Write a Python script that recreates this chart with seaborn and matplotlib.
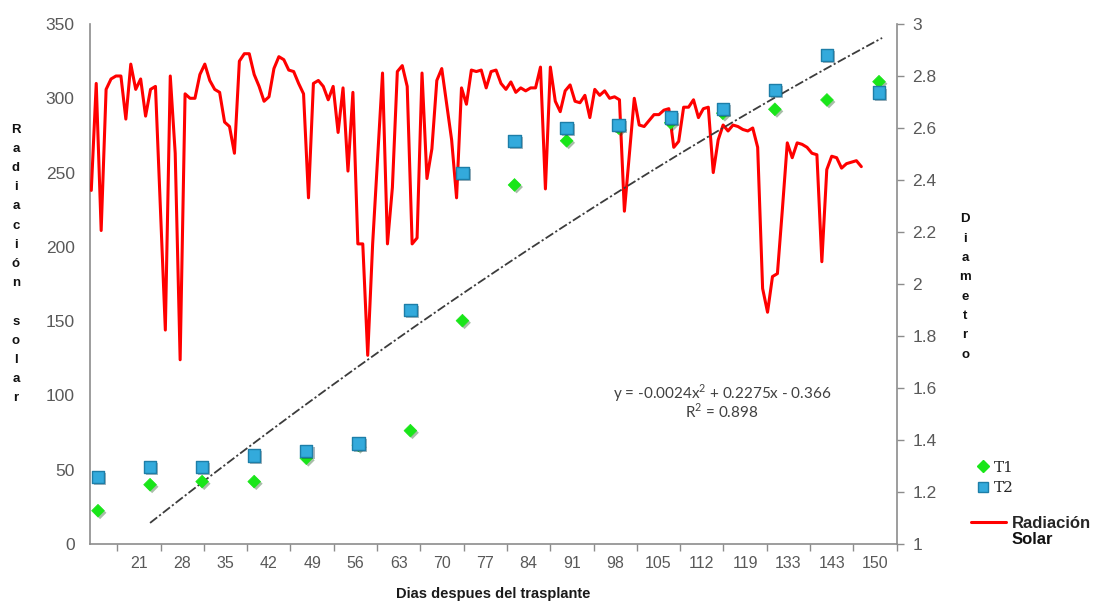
import numpy as np
import pandas as pd
import matplotlib.pyplot as plt
import matplotlib.patheffects as pe
from matplotlib.lines import Line2D
import seaborn as sns

# daily solar radiation (primary axis)
radiacion = [
    238, 310, 211, 306, 313, 315, 315, 286, 323, 306, 313, 288, 306, 308, 226,
    144, 315, 263, 124, 303, 300, 300, 316, 323, 312, 306, 304, 284, 281, 263,
    325, 330, 330, 316, 308, 298, 301, 320, 328, 326, 319, 318, 310, 303, 233,
    310, 312, 308, 299, 308, 277, 307, 251, 304, 202, 202, 127, 202, 260, 317,
    202, 240, 318, 322, 308, 202, 206, 317, 246, 266, 312, 320, 296, 272, 233,
    307, 296, 319, 318, 319, 307, 318, 319, 310, 306, 311, 304, 307, 305, 307,
    307, 321, 239, 321, 298, 291, 305, 309, 298, 297, 302, 287, 306, 302, 305,
    300, 301, 299, 224, 262, 300, 282, 281, 285, 289, 289, 292, 293, 267, 271,
    294, 294, 299, 287, 293, 294, 250, 272, 282, 278, 282, 281, 279, 278, 280,
    267, 172, 156, 180, 182, 225, 270, 260, 270, 269, 267, 263, 262, 190, 252,
    261, 260, 253, 256, 257, 258, 254,
]

# stem diameter per sampling (secondary axis)
t1 = [1.128, 1.228, 1.240, 1.240, 1.330, 1.380, 1.436, 1.859,
      2.381, 2.551, 2.600, 2.620, 2.657, 2.672, 2.708, 2.778]
t2 = [1.257, 1.297, 1.297, 1.340, 1.358, 1.387, 1.900, 2.428,
      2.551, 2.601, 2.612, 2.641, 2.674, 2.746, 2.881, 2.736]

dias_labels = ["21", "28", "35", "42", "49", "56", "63", "70", "77", "84",
               "91", "98", "105", "112", "119", "133", "143", "150"]

# polynomial trendline as drawn (sampling index -> diameter)
trend_coef = [-0.00177, 0.1611, 0.9217]
trend_span = [1.0, 15.06]

ecuacion = "y = -0.0024x$^{2}$ + 0.2275x - 0.366"
r2_text = "R$^{2}$ = 0.898"

GRAY = "#595959"
AXIS = "#8c8c8c"
RED = "#ff0000"
GREEN = "#19e619"
BLUE = "#33aadc"

sns.set_theme(style="white")
plt.rcParams["font.family"] = ["Liberation Sans", "DejaVu Sans"]
plt.rcParams["mathtext.fontset"] = "custom"
plt.rcParams["mathtext.rm"] = "Lato"


def frac_limits(n_pts, start, end):
    # xlim so that point 0 lands at axes fraction `start` and the last at `end`
    per = (n_pts - 1) / (end - start)
    return -start * per, (1 - start) * per


fig = plt.figure(figsize=(10.93, 6.02), dpi=100)
rect = [90 / 1093, 1 - 544 / 602, 807 / 1093, 520 / 602]

ax = fig.add_axes(rect)
ax.set_facecolor("white")
ax.set_ylim(0, 350)
ax.set_yticks(np.arange(0, 351, 50))
ax.tick_params(axis="y", length=0, pad=11, labelsize=12.5, labelcolor=GRAY)

ax.set_xlim(-1.1305, 17.507)
ax.set_xticks(np.arange(len(dias_labels)))
ax.set_xticklabels(dias_labels, fontsize=11.5, color=GRAY)
ax.set_xticks(np.arange(-0.5, len(dias_labels), 1.0), minor=True)
ax.tick_params(axis="x", which="major", length=0, pad=9)
ax.tick_params(axis="x", which="minor", bottom=True, length=5, width=1, color=AXIS,
               direction="out")
ax.set_xlabel("Dias despues del trasplante", fontsize=10.5, weight="bold",
              color="#1a1a1a", labelpad=11)
ax.grid(False)
for side in ["left", "bottom", "right"]:
    ax.spines[side].set_color(AXIS)
    ax.spines[side].set_linewidth(1.2)
ax.spines["top"].set_visible(False)

# red line on its own x scale (daily points)
ax_line = ax.twiny()
ax_line.set_xlim(*frac_limits(len(radiacion), 0.0016, 0.9558))
ax_line.xaxis.set_visible(False)
for s in ax_line.spines.values():
    s.set_visible(False)
rad_df = pd.DataFrame({"dia": np.arange(len(radiacion)), "rad": radiacion})
sns.lineplot(data=rad_df, x="dia", y="rad", ax=ax_line, color=RED, lw=2.2)
ax_line.set_ylabel("")

# scatter + trendline on the secondary axes
ax2 = fig.add_axes(rect, frameon=False)
ax2.set_ylim(1, 3)
ax2.set_xlim(*frac_limits(len(t1), 0.0099, 0.9777))
ax2.xaxis.set_visible(False)
ax2.yaxis.tick_right()
ax2.set_yticks(np.arange(1, 3.01, 0.2))
ax2.set_yticklabels([f"{v:g}" for v in np.round(np.arange(1, 3.01, 0.2), 1)])
ax2.tick_params(axis="y", right=True, left=False, length=5, width=1, color=AXIS,
                direction="out", pad=6, labelsize=12.5, labelcolor=GRAY)
ax2.grid(False)

xs = np.linspace(trend_span[0], trend_span[1], 200)
ax2.plot(xs, np.polyval(trend_coef, xs), color="#3c3c3c", lw=1.3,
         ls=(0, (5, 1.4, 1.2, 1.4)))

sc_df = pd.DataFrame({"idx": np.arange(len(t1)), "T1": t1, "T2": t2})
shadow = [pe.SimplePatchShadow(offset=(1.5, -1.5), alpha=0.35), pe.Normal()]
sns.scatterplot(data=sc_df, x="idx", y="T1", ax=ax2, marker="D", s=42, color=GREEN,
                edgecolor=GREEN, linewidth=0.5, zorder=4)
sns.scatterplot(data=sc_df, x="idx", y="T2", ax=ax2, marker="s", s=80, color=BLUE,
                edgecolor="#1d7ea8", linewidth=1.0, zorder=5)
for coll in ax2.collections:
    coll.set_path_effects(shadow)
ax2.set_ylabel("")

fig.text(722 / 1093, 1 - 393 / 602, ecuacion, ha="center", va="center",
         fontsize=11, color="#404040", family="Lato")
fig.text(722 / 1093, 1 - 411 / 602, r2_text, ha="center", va="center",
         fontsize=11, color="#404040", family="Lato")

# stacked axis titles
fig.text(16 / 1093, 1 - 264 / 602, "\n".join("Radiación solar"), ha="center", va="center",
         fontsize=9.5, weight="bold", linespacing=1.8, color="#111111")
fig.text(965 / 1093, 1 - 287 / 602, "\n".join("Diametro"), ha="center", va="center",
         fontsize=9.5, weight="bold", linespacing=1.82, color="#111111")

fig.legend(
    handles=[Line2D([], [], marker="D", ls="", color=GREEN, ms=6),
             Line2D([], [], marker="s", ls="", color=BLUE, mec="#1d7ea8", ms=7)],
    labels=["T1", "T2"], loc="upper left", bbox_to_anchor=(962 / 1093, 1 - 447 / 602),
    frameon=False, handlelength=0.9, handletextpad=0.3, labelspacing=0.4,
    prop=dict(family="DejaVu Serif", size=11),
)
leg = fig.legend(
    handles=[Line2D([], [], color=RED, lw=2.2)], labels=["Radiación"],
    loc="upper left", bbox_to_anchor=(956 / 1093, 1 - 501 / 602), frameon=False,
    handlelength=2.1, handletextpad=0.35,
    prop=dict(family="Liberation Sans", weight="bold", size=12),
)

# second line of the legend label, under "Radiación"
fig.canvas.draw()
bb = leg.get_texts()[0].get_window_extent().transformed(fig.transFigure.inverted())
fig.text(bb.x0, bb.y0 - 0.002, "Solar", ha="left", va="top",
         fontsize=12, weight="bold", color="#111111")

fig.savefig("out.png", dpi=100)
